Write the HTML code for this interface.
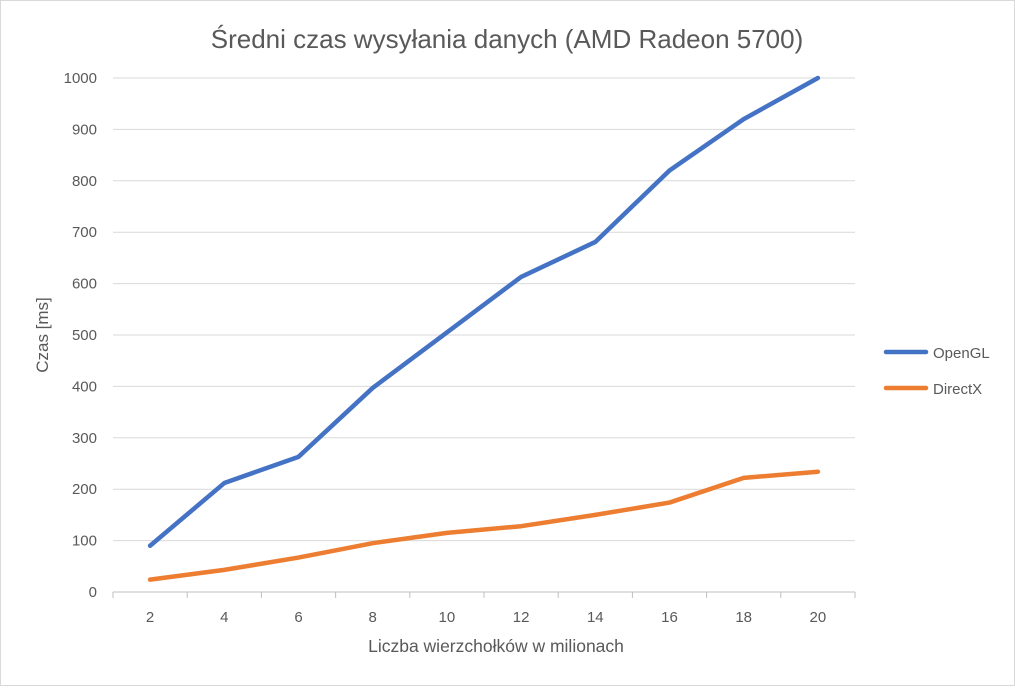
<!DOCTYPE html>
<html><head><meta charset="utf-8"><style>
body{margin:0;background:#fff}
svg{font-family:"Liberation Sans","DejaVu Sans",sans-serif}
</style></head><body>
<svg id="chart" width="1015" height="686" viewBox="0 0 1015 686" xmlns="http://www.w3.org/2000/svg">
<rect x="0.5" y="0.5" width="1014" height="685" fill="#fff" stroke="#d9d9d9"/>
<text x="507" y="48" text-anchor="middle" font-size="26" fill="#595959">Średni czas wysyłania danych (AMD Radeon 5700)</text>
<g id="grid"></g>
<g id="yticks"></g>
<g id="xticks"></g>
<g id="series"></g>
<text transform="translate(48,335) rotate(-90)" text-anchor="middle" font-size="17" fill="#595959">Czas  [ms]</text>
<text x="496" y="652" text-anchor="middle" font-size="17.5" fill="#595959">Liczba wierzchołków w milionach</text>
<g>
<line x1="886" y1="352" x2="926" y2="352" stroke="#4472c4" stroke-width="4.5" stroke-linecap="round"/>
<text x="933" y="358" font-size="15" fill="#595959">OpenGL</text>
<line x1="886" y1="388" x2="926" y2="388" stroke="#ed7d31" stroke-width="4.5" stroke-linecap="round"/>
<text x="933" y="394" font-size="15" fill="#595959">DirectX</text>
</g>
</svg>
<script>
const categories=["2","4","6","8","10","12","14","16","18","20"];
const openglValues=[90,212,263,397,505,613,681,820,920,1000];
const directxValues=[24,43,67,95,115,128,150,174,222,234];
const yTicks=[0,100,200,300,400,500,600,700,800,900,1000];
const NS="http://www.w3.org/2000/svg";
const L=113,R=855,T=78,B=592,yMax=1000;
const step=(R-L)/categories.length;
const xs=i=>L+step*(i+0.5);
const ys=v=>B-(v/yMax)*(B-T);
function mk(tag,attrs,parent){const e=document.createElementNS(NS,tag);for(const k in attrs)e.setAttribute(k,attrs[k]);parent.appendChild(e);return e;}
const grid=document.getElementById('grid'),yt=document.getElementById('yticks'),xt=document.getElementById('xticks'),se=document.getElementById('series');
yTicks.forEach(v=>{
 const l=mk('line',{x1:L,x2:R,y1:ys(v),y2:ys(v),stroke:v===0?'#bfbfbf':'#d9d9d9','stroke-width':1},grid);
 
 
 const t=mk('text',{x:97,y:ys(v)+5,'text-anchor':'end','font-size':15,fill:'#595959'},yt);
 t.textContent=v;
 
 
});
for(let i=0;i<=categories.length;i++){
 const l=mk('line',{x1:L+step*i,x2:L+step*i,y1:B,y2:B+6,stroke:'#bfbfbf'},xt);
 
 
}
categories.forEach((c,i)=>{
 const t=mk('text',{x:xs(i),y:622,'text-anchor':'middle','font-size':15,fill:'#595959'},xt);
 t.textContent=c;
 
 
});
function line(vals,color,name){
 const p=mk('polyline',{points:vals.map((v,i)=>xs(i)+','+ys(v)).join(' '),fill:'none',stroke:color,'stroke-width':4.5,'stroke-linejoin':'round','stroke-linecap':'round'},se);
 
 
}
line(openglValues,'#4472c4','opengl-line');
line(directxValues,'#ed7d31','directx-line');
</script>
</body></html>
